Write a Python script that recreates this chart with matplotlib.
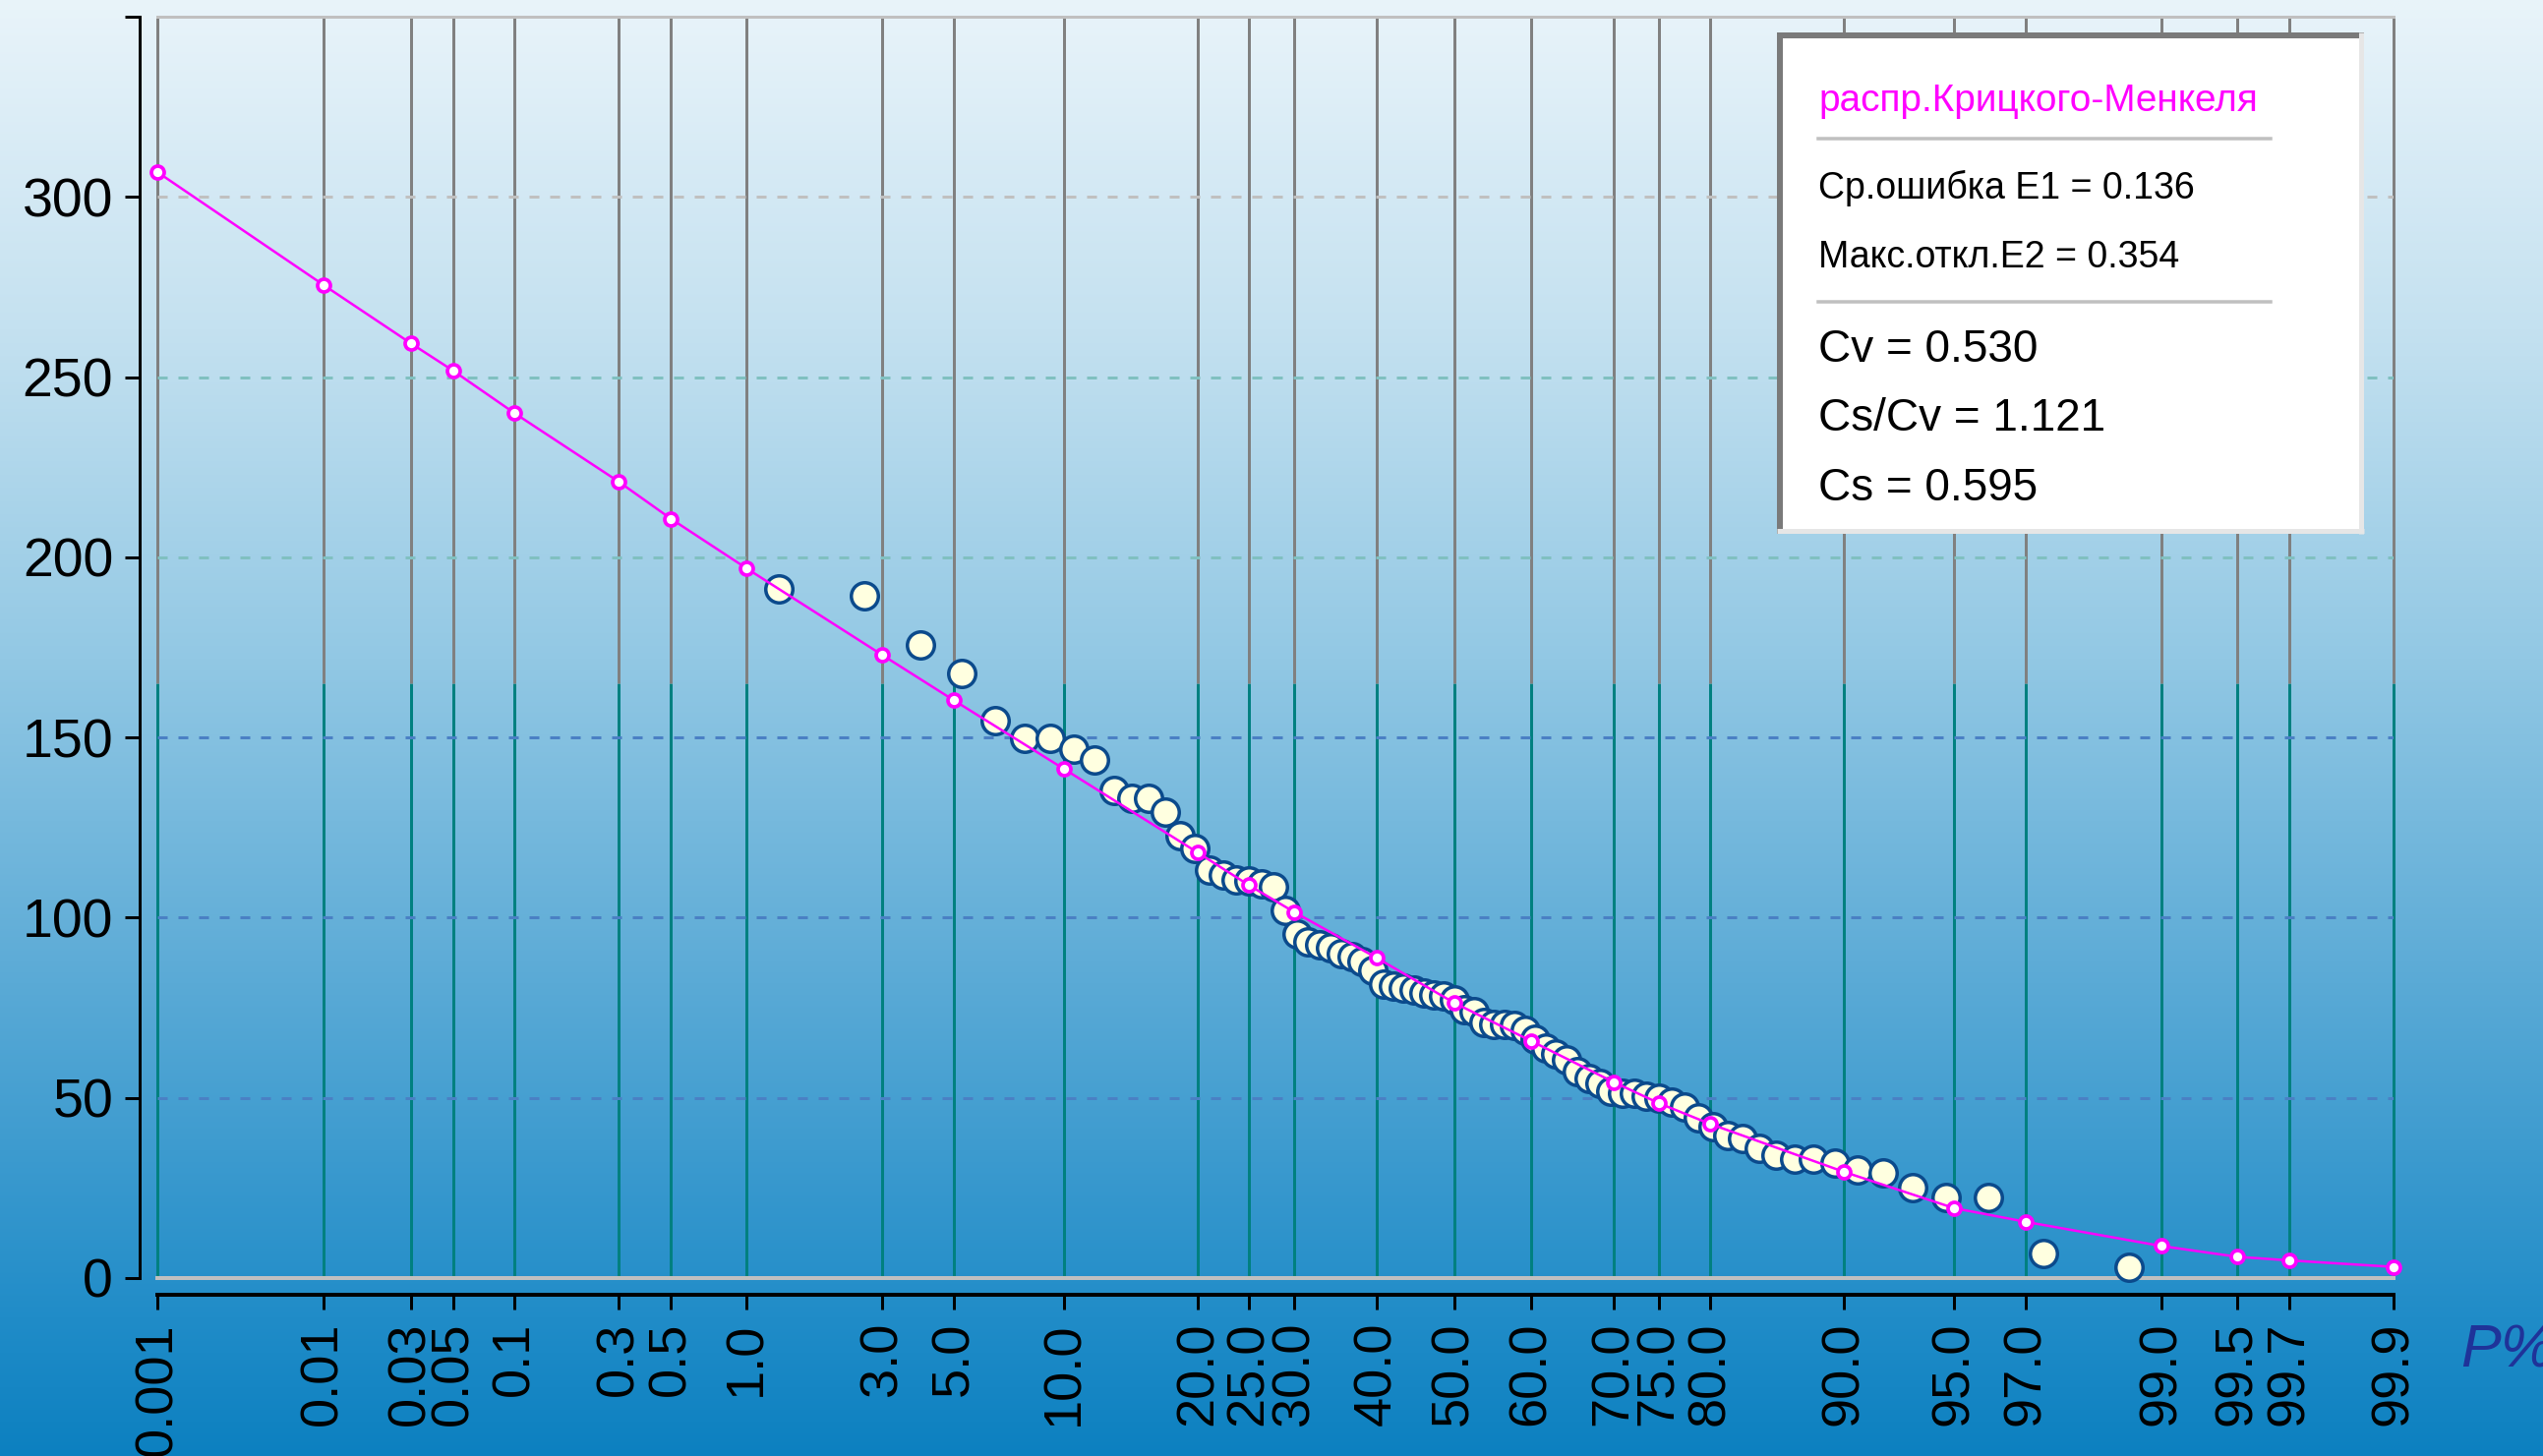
import numpy as np
import matplotlib
matplotlib.use("Agg")
import matplotlib.pyplot as plt
from matplotlib.ticker import NullLocator
from matplotlib.patches import Rectangle
from statistics import NormalDist

# ---------------- data ----------------
tick_p = [0.001, 0.01, 0.03, 0.05, 0.1, 0.3, 0.5, 1.0, 3.0, 5.0, 10.0, 20.0, 25.0,
          30.0, 40.0, 50.0, 60.0, 70.0, 75.0, 80.0, 90.0, 95.0, 97.0, 99.0, 99.5,
          99.7, 99.9]
tick_labels = ["0.001", "0.01", "0.03", "0.05", "0.1", "0.3", "0.5", "1.0", "3.0",
               "5.0", "10.0", "20.0", "25.0", "30.0", "40.0", "50.0", "60.0", "70.0",
               "75.0", "80.0", "90.0", "95.0", "97.0", "99.0", "99.5", "99.7", "99.9"]

# theoretical curve (Kritsky-Menkel distribution) at the tick probabilities
theor_p = tick_p
theor_q = [306.9, 275.6, 259.4, 251.7, 240.0, 221.0, 210.7, 196.9, 172.9, 160.3,
           141.2, 118.0, 109.0, 101.5, 88.8, 76.4, 65.8, 54.4, 48.5, 42.8, 29.5,
           19.4, 15.6, 8.9, 5.9, 4.9, 3.1]

# empirical points: exceedance probability (%) and value
obs_p = [1.32, 2.63, 3.95, 5.26, 6.58, 7.89, 9.21, 10.53, 11.84, 13.16, 14.47, 15.79,
         17.11, 18.42, 19.74, 21.05, 22.37, 23.68, 25.00, 26.32, 27.63, 28.95, 30.26,
         31.58, 32.89, 34.21, 35.53, 36.84, 38.16, 39.47, 40.79, 42.11, 43.42, 44.74,
         46.05, 47.37, 48.68, 50.00, 51.32, 52.63, 53.95, 55.26, 56.58, 57.89, 59.21,
         60.53, 61.84, 63.16, 64.47, 65.79, 67.11, 68.42, 69.74, 71.05, 72.37, 73.68,
         75.00, 76.32, 77.63, 78.95, 80.26, 81.58, 82.89, 84.21, 85.53, 86.84, 88.16,
         89.47, 90.79, 92.11, 93.42, 94.74, 96.05, 97.37, 98.68]
obs_q = [191.3, 189.3, 175.6, 167.9, 154.7, 149.7, 149.7, 146.9, 143.9, 135.2, 133.1,
         133.1, 129.4, 122.8, 119.2, 113.1, 111.9, 110.5, 110.1, 109.5, 108.6, 101.9,
         95.5, 93.3, 92.4, 91.7, 90.1, 89.2, 87.8, 85.5, 81.5, 81.0, 80.5, 80.0, 79.2,
         78.6, 78.3, 77.3, 74.6, 74.0, 71.0, 70.5, 70.5, 70.0, 68.7, 66.4, 63.7, 62.3,
         60.5, 57.3, 55.5, 54.1, 51.9, 51.4, 51.2, 50.5, 50.0, 48.7, 47.5, 44.6, 41.9,
         39.6, 38.8, 36.0, 34.1, 33.0, 33.0, 32.0, 30.1, 29.1, 25.2, 22.3, 22.3, 6.8,
         3.0]

y_ticks = [0, 50, 100, 150, 200, 250, 300, 350]
y_labels = ["0", "50", "100", "150", "200", "250", "300", ""]
h_grid = [50, 100, 150, 200, 250, 300]
h_grid_colors = ["#4a80c4", "#4a80c4", "#4a80c4", "#80c0c0", "#80c0c0", "#c0c0c0"]

legend_title = "распр.Крицкого-Менкеля"
legend_small = ["Ср.ошибка E1 = 0.136", "Макс.откл.E2 = 0.354"]
legend_big = ["Cv = 0.530", "Cs/Cv = 1.121", "Cs = 0.595"]

# ---------------- setup ----------------
plt.rcParams["font.family"] = ["Liberation Sans", "DejaVu Sans"]
plt.rcParams["lines.scale_dashes"] = False

W, H = 2586, 1481
DPI = 100
PX = 72.0 / DPI  # points per pixel

fig = plt.figure(figsize=(W / DPI, H / DPI), dpi=DPI)

# background gradient
stops_y = [0, 335, 670, 1000, 1340, 1481]
stops_c = np.array([(233, 244, 250), (196, 225, 240), (146, 200, 228),
                    (90, 170, 214), (32, 140, 200), (12, 128, 192)]) / 255.0
yy = np.arange(H)
grad = np.stack([np.interp(yy, stops_y, stops_c[:, k]) for k in range(3)], axis=-1)
grad = grad[:, None, :]
bg = fig.add_axes([0, 0, 1, 1], zorder=-10)
bg.imshow(grad, aspect="auto", extent=[0, 1, 0, 1], interpolation="bilinear")
bg.axis("off")

# probability (normal) scale
ND = NormalDist()
_icdf = np.vectorize(ND.inv_cdf, otypes=[float])
_cdf = np.vectorize(ND.cdf, otypes=[float])


def fwd(p):
    p = np.clip(np.asarray(p, dtype=float) / 100.0, 1e-12, 1 - 1e-12)
    return _icdf(p)


def inv(z):
    return _cdf(np.asarray(z, dtype=float)) * 100.0


left, right, top, bottom = 160, 2434, 17, 1300
ax = fig.add_axes([left / W, 1 - bottom / H, (right - left) / W, (bottom - top) / H])
ax.patch.set_alpha(0)
ax.set_xscale("function", functions=(fwd, inv))
ax.set_xlim(0.001, 99.9)
ax.set_ylim(0, 350)

# vertical grid lines: teal low part, gray upper part
split = 165
ax.vlines(tick_p, 0, split, colors="#008080", linewidth=3 * PX, zorder=1, clip_on=False)
ax.vlines(tick_p, split, 350, colors="#808080", linewidth=3 * PX, zorder=1, clip_on=False)

# horizontal dashed grid lines
for yv, col in zip(h_grid, h_grid_colors):
    ax.axhline(yv, color=col, linewidth=3 * PX, linestyle=(0, (10 * PX, 11 * PX)),
               zorder=1.5)

# bottom light-gray line at 0
ax.axhline(0, color="#c0c0c0", linewidth=4 * PX, zorder=1.6, clip_on=False)

# empirical points
ax.plot(obs_p, obs_q, linestyle="none", marker="o", markersize=27.5 * PX,
        markerfacecolor="#ffffe0", markeredgecolor="#0b4a8c",
        markeredgewidth=3.5 * PX, zorder=3, clip_on=False)

# theoretical curve
ax.plot(theor_p, theor_q, color="#ff00ff", linewidth=2.5 * PX, marker="o",
        markersize=13 * PX, markerfacecolor="white", markeredgecolor="#ff00ff",
        markeredgewidth=3.7 * PX, zorder=4, clip_on=False)

# spines
ax.spines["right"].set_visible(False)
ax.spines["top"].set_color("#c0c0c0")
ax.spines["top"].set_linewidth(3 * PX)
ax.spines["left"].set_position(("outward", 18 * PX))
ax.spines["left"].set_linewidth(3 * PX)
ax.spines["bottom"].set_position(("outward", 17 * PX))
ax.spines["bottom"].set_linewidth(4 * PX)

ax.set_xticks(tick_p)
ax.set_xticklabels(tick_labels, rotation=90, fontsize=39)
ax.xaxis.set_minor_locator(NullLocator())
ax.set_yticks(y_ticks)
ax.set_yticklabels(y_labels, fontsize=40)
ax.yaxis.set_minor_locator(NullLocator())
ax.tick_params(axis="both", direction="out", length=15 * PX, width=3 * PX,
               color="black", labelcolor="black")
ax.tick_params(axis="x", pad=13 * PX)
ax.tick_params(axis="y", pad=12 * PX)

# overlay in pixel coordinates for legend box and P% label
ov = fig.add_axes([0, 0, 1, 1], zorder=10)
ov.set_xlim(0, W)
ov.set_ylim(H, 0)
ov.axis("off")
ov.patch.set_alpha(0)

bx0, by0, bx1, by1 = 1807, 33, 2404, 543
ov.add_patch(Rectangle((bx0, by0), bx1 - bx0, by1 - by0, facecolor="white",
                       edgecolor="none"))
ov.plot([bx0 + 3, bx0 + 3], [by0, by1], color="#7a7a7a", linewidth=6 * PX,
        solid_capstyle="butt")
ov.plot([bx0, bx1], [by0 + 3, by0 + 3], color="#7a7a7a", linewidth=6 * PX,
        solid_capstyle="butt")
ov.plot([bx1 - 3, bx1 - 3], [by0, by1], color="#e6e6e6", linewidth=5 * PX,
        solid_capstyle="butt")
ov.plot([bx0, bx1], [by1 - 3, by1 - 3], color="#e6e6e6", linewidth=5 * PX,
        solid_capstyle="butt")

tx = 1849
ov.text(tx, 113, legend_title, color="#ff00ff", fontsize=27.9, va="baseline", ha="left")
ov.plot([tx, 2309], [140.5, 140.5], color="#c0c0c0", linewidth=3.5 * PX)
ov.text(tx, 202.5, legend_small[0], color="black", fontsize=27, va="baseline", ha="left")
ov.text(tx, 272.4, legend_small[1], color="black", fontsize=27, va="baseline", ha="left")
ov.plot([tx, 2309], [306.5, 306.5], color="#c0c0c0", linewidth=3.5 * PX)
ov.text(tx, 367.8, legend_big[0], color="black", fontsize=33, va="baseline", ha="left")
ov.text(tx, 438.4, legend_big[1], color="black", fontsize=33, va="baseline", ha="left")
ov.text(tx, 509.0, legend_big[2], color="black", fontsize=33, va="baseline", ha="left")

ov.text(2502, 1375, "P%", color="#1f3399", fontsize=44, fontstyle="italic",
        va="center", ha="left")

fig.savefig("out.png", dpi=DPI)
